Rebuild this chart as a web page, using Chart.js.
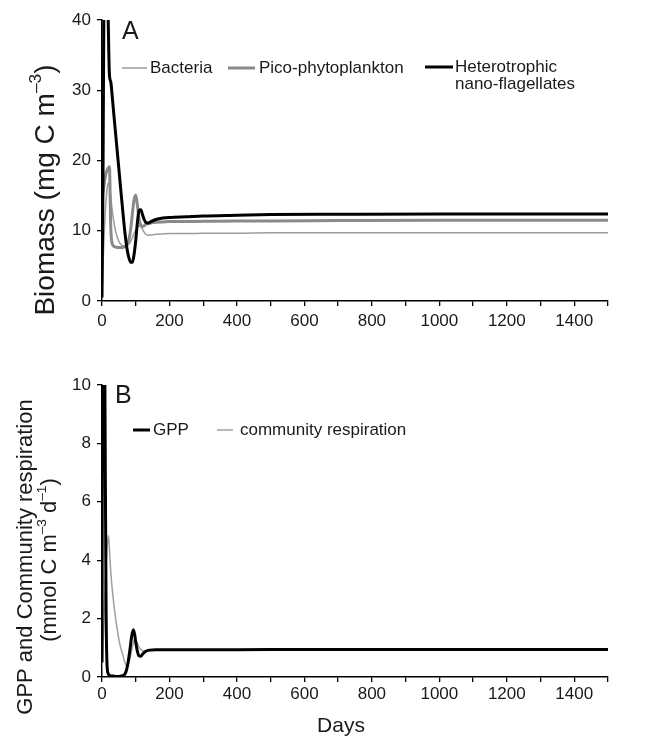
<!DOCTYPE html>
<html><head><meta charset="utf-8">
<script src="https://cdn.jsdelivr.net/npm/chart.js@4.4.1/dist/chart.umd.min.js"></script>
<style>
html,body{margin:0;padding:0;background:#fff;}
#wrap{position:relative;width:661px;height:738px;background:#fff;}
canvas{position:absolute;left:0;}
</style></head><body>
<div id="wrap">
<canvas id="cA" width="661" height="345" style="top:0"></canvas>
<canvas id="cB" width="661" height="393" style="top:345px"></canvas>
</div>
<script>
// ---------- Panel A data (days, mg C m^-3) ----------
const daysA = [0,3,6,10,14,18,22,26,30,35,40,45,50,55,60,65,70,75,80,85,90,95,100,105,110,115,120,125,130,137,145,160,180,200,250,300,400,500,700,1000,1500];
const bacteria = [1,5,9,13,15.5,16.8,16.5,14.8,13.0,11.3,10.0,9.1,8.5,8.1,7.9,7.8,7.8,7.9,8.1,8.5,9.0,9.6,10.1,10.5,10.7,10.6,10.2,9.8,9.5,9.35,9.4,9.5,9.55,9.6,9.6,9.65,9.65,9.7,9.7,9.7,9.7];
const pico = [14.5,15.5,16.5,17.8,18.5,18.9,19.1,10.5,8.2,7.8,7.7,7.6,7.6,7.6,7.6,7.7,7.8,8.1,8.8,10.2,12.4,14.4,15.1,13.6,11.6,10.8,10.6,10.7,10.9,11.0,11.1,11.2,11.25,11.3,11.3,11.35,11.4,11.4,11.45,11.5,11.5];
const hnf = [0.5,18,46,55,50,41,32.2,31.2,29.3,26.6,24.0,21.4,18.8,16.2,13.6,11.1,8.9,7.2,6.1,5.5,5.5,6.6,8.6,11.2,12.9,13.0,12.3,11.6,11.2,11.1,11.3,11.6,11.8,11.9,12.0,12.1,12.2,12.3,12.35,12.4,12.4];

// ---------- Panel B data (days, mmol C m^-3 d^-1) ----------
const daysB = [0,2,6,9,12,15,19,22,26,30,34,40,44,50,55,60,63,68,73,78,83,88,93,97,100,105,110,115,120,130,140,160,200,300,500,800,1100,1500];
const gpp = [0.5,14,15,9,2.5,0.4,0.1,0.06,0.04,0.03,0.03,0.02,0.02,0.02,0.03,0.04,0.05,0.1,0.25,0.55,0.95,1.4,1.62,1.45,1.2,0.88,0.72,0.71,0.78,0.88,0.92,0.93,0.93,0.93,0.94,0.94,0.94,0.94];
const respiration = [0.3,0.8,2.0,3.0,3.8,4.4,4.85,4.4,3.6,3.05,2.6,2.05,1.72,1.3,1.02,0.82,0.7,0.5,0.38,0.42,0.62,0.92,1.18,1.3,1.28,1.15,1.02,0.95,0.9,0.88,0.9,0.92,0.92,0.93,0.93,0.94,0.94,0.94];

// ---------- Labels ----------
const seriesA = ['Bacteria','Pico-phytoplankton','Heterotrophic nano-flagellates'];
const seriesB = ['GPP','community respiration'];
const xLabel = 'Days';

const FONT = "'Liberation Sans', Arial, Helvetica, sans-serif";
const pts = (xs, ys) => xs.map((x,i)=>({x:x, y:ys[i]}));

function drawRich(ctx, segs, size, cx, cy, rot){
  ctx.save();
  ctx.translate(cx, cy);
  ctx.rotate(rot);
  let total = 0;
  const parts = segs.map(s=>{
    const fs = s.sup ? size*0.62 : size;
    ctx.font = fs + 'px ' + FONT;
    const w = ctx.measureText(s.t).width;
    total += w;
    return {s, fs, w};
  });
  let x = -total/2;
  ctx.textBaseline = 'middle';
  ctx.textAlign = 'left';
  ctx.fillStyle = '#1a1a1a';
  parts.forEach(p=>{
    ctx.font = p.fs + 'px ' + FONT;
    ctx.fillText(p.s.t, x, p.s.sup ? -size*0.36 : 0);
    x += p.w;
  });
  ctx.restore();
}

const annotPlugin = {
  id: 'annot',
  afterDraw(chart, args, o){
    const ctx = chart.ctx;
    ctx.save();
    // panel letter
    ctx.fillStyle = '#1a1a1a';
    ctx.font = o.letterSize + 'px ' + FONT;
    ctx.textBaseline = 'middle';
    ctx.textAlign = 'left';
    ctx.fillText(o.letter, o.letterX, o.letterY);
    // legend
    ctx.font = '17px ' + FONT;
    o.legend.forEach(it=>{
      const ds = chart.data.datasets[it.ds];
      ctx.strokeStyle = ds.borderColor;
      ctx.lineWidth = ds.borderWidth;
      ctx.beginPath();
      ctx.moveTo(it.x1, it.y);
      ctx.lineTo(it.x2, it.y);
      ctx.stroke();
      ctx.fillStyle = '#1a1a1a';
      const lines = it.wrap ? ds.label.split(' ') : [ds.label];
      lines.forEach((ln, k)=>{ ctx.fillText(ln, it.tx, it.y + k*17); });
    });
    ctx.restore();
    // rotated y titles
    o.yTitles.forEach(t=> drawRich(ctx, t.segs, t.size, t.cx, t.cy, -Math.PI/2));
    if (o.xTitle) drawRich(ctx, [{t:o.xTitle.text}], o.xTitle.size, o.xTitle.cx, o.xTitle.cy, 0);
  }
};

function axisX(pad, h){
  return {
    type:'linear', min:0, max:1500,
    afterFit: s=>{ s.height = h; },
    ticks:{stepSize:100, autoSkip:false, maxRotation:0, padding:pad,
      callback: v => (v % 200 === 0 ? String(v) : ''),
      font:{size:17, family:FONT}, color:'#1a1a1a'},
    grid:{drawOnChartArea:false, tickLength:5, color:'#000', lineWidth:1.3},
    border:{color:'#000', width:1.5}
  };
}
function axisY(max, step){
  return {
    type:'linear', min:0, max:max,
    afterFit: s=>{ s.width = 102; },
    ticks:{stepSize:step, padding:6, font:{size:17, family:FONT}, color:'#1a1a1a'},
    grid:{drawOnChartArea:false, tickLength:5, color:'#000', lineWidth:1.3},
    border:{color:'#000', width:1.5}
  };
}

new Chart(document.getElementById('cA'), {
  type:'line',
  data:{datasets:[
    {label:seriesA[0], data:pts(daysA, bacteria), borderColor:'#9c9c9c', borderWidth:1.5, order:2},
    {label:seriesA[1], data:pts(daysA, pico), borderColor:'#8a8a8a', borderWidth:3, order:1},
    {label:seriesA[2], data:pts(daysA, hnf), borderColor:'#000000', borderWidth:3, order:0}
  ]},
  options:{
    responsive:false, animation:false, devicePixelRatio:1,
    layout:{padding:{top:20, right:53, left:0, bottom:0}},
    elements:{point:{radius:0}, line:{cubicInterpolationMode:'monotone', fill:false}},
    plugins:{
      legend:{display:false}, tooltip:{enabled:false},
      annot:{
        letter:'A', letterSize:25, letterX:122, letterY:32,
        legend:[
          {ds:0, x1:122, x2:147, y:68, tx:150},
          {ds:1, x1:228, x2:255, y:68, tx:259},
          {ds:2, x1:425, x2:453, y:67, tx:455, wrap:true}
        ],
        yTitles:[{segs:[{t:'Biomass (mg C m'},{t:'–3',sup:true},{t:')'}], size:28, cx:46, cy:190}]
      }
    },
    scales:{x:axisX(5, 44), y:axisY(40, 10)}
  },
  plugins:[annotPlugin]
});

new Chart(document.getElementById('cB'), {
  type:'line',
  data:{datasets:[
    {label:seriesB[0], data:pts(daysB, gpp), borderColor:'#000000', borderWidth:3, order:0},
    {label:seriesB[1], data:pts(daysB, respiration), borderColor:'#a0a0a0', borderWidth:1.5, order:1}
  ]},
  options:{
    responsive:false, animation:false, devicePixelRatio:1,
    layout:{padding:{top:40, right:53, left:0, bottom:0}},
    elements:{point:{radius:0}, line:{cubicInterpolationMode:'monotone', fill:false}},
    plugins:{
      legend:{display:false}, tooltip:{enabled:false},
      annot:{
        letter:'B', letterSize:25, letterX:115, letterY:51,
        legend:[
          {ds:0, x1:133, x2:150, y:85, tx:153},
          {ds:1, x1:217, x2:233, y:85, tx:240}
        ],
        yTitles:[
          {segs:[{t:'GPP and Community respiration'}], size:22, cx:26, cy:212},
          {segs:[{t:'(mmol C m'},{t:'–3',sup:true},{t:' d'},{t:'–1',sup:true},{t:')'}], size:22, cx:50, cy:215}
        ],
        xTitle:{text:xLabel, size:21, cx:341, cy:381}
      }
    },
    scales:{x:axisX(2, 61), y:axisY(10, 2)}
  },
  plugins:[annotPlugin]
});
</script>
</body></html>
